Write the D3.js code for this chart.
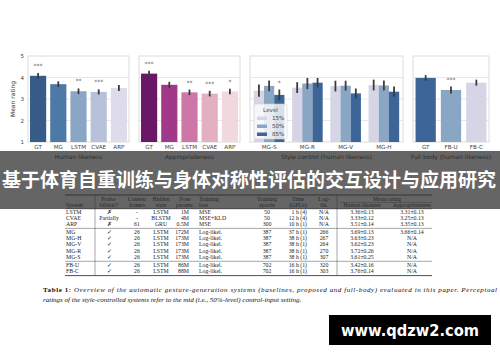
<!DOCTYPE html>
<html lang="zh">
<head>
<meta charset="UTF-8">
<title>Gesture generation ratings</title>
<script src="https://d3js.org/d3.v7.min.js"></script>
<style>
  body { margin: 0; background: #fff; }
  svg { display: block; }
  .tick-lab { font-family: "DejaVu Sans", sans-serif; font-size: 5.6px; fill: #444; }
  .ax-lab { font-family: "DejaVu Sans", sans-serif; font-size: 6px; fill: #333; }
  .star { font-family: "DejaVu Sans", sans-serif; font-size: 6px; fill: #555; }
  .tbl { font-family: "Liberation Serif", serif; font-size: 5.8px; fill: #222; }
</style>
</head>
<body>
<svg id="fig" width="500" height="362"></svg>
<script>
// ---- data ----
var hlSystems = ["GT", "MG", "LSTM", "CVAE", "ARP"];
var hlMeans = [4.08, 3.69, 3.36, 3.33, 3.51];
var hlErr = [0.13, 0.13, 0.13, 0.12, 0.14];
var hlStars = ["***", "", "**", "***", ""];
var hlColors = ["#365c87", "#4c79a6", "#8aa6c5", "#b7c2da", "#dedcea"];

var apMeans = [4.18, 3.66, 3.31, 3.25, 3.35];
var apErr = [0.13, 0.14, 0.13, 0.13, 0.13];
var apStars = ["***", "", "**", "***", "*"];
var apColors = ["#6a1865", "#a2388a", "#cc77a8", "#e2b0c0", "#f0d8dc"];

var styleSystems = ["MG-S", "MG-R", "MG-V", "MG-H"];
var levels = ["15%", "50%", "85%"];
var style15 = [3.39, 3.53, 3.60, 3.65];
var style50 = [3.61, 3.72, 3.62, 3.63];
var style85 = [3.19, 3.76, 3.26, 3.34];
var style15Err = [0.28, 0.25, 0.25, 0.25];
var style50Err = [0.25, 0.26, 0.23, 0.23];
var style85Err = [0.25, 0.22, 0.23, 0.24];
var style85Stars = ["*", "", "", ""];
var levelColors = ["#d6d5e6", "#8aa6c5", "#3d6597"];

var fbSystems = ["GT", "FB-U", "FB-C"];
var fbMeans = [3.98, 3.42, 3.76];
var fbErr = [0.13, 0.16, 0.14];
var fbStars = ["", "***", ""];
var fbColors = ["#3d6597", "#8aa6c5", "#d6d5e6"];

var yTicks = [1, 2, 3, 4, 5];

var tableHead1 = ["", "Proba-", "Context", "Hidden", "Pose", "Training", "Training", "Time", "Log-"];
var tableHead2 = ["System", "bilistic?", "frames", "state", "params.", "loss", "epochs", "(GPUs)", "lik."];
var ratingHead = ["Human-likeness", "Appropriateness"];
var tableRows = [
  ["LSTM", "\u2717", "-", "LSTM", "1M", "MSE", "50", "1 h (4)", "N/A", "3.36\u00b10.13", "3.31\u00b10.13"],
  ["CVAE", "Partially", "-", "BLSTM", "4M", "MSE+KLD", "50", "12 h (4)", "N/A", "3.33\u00b10.12", "3.25\u00b10.13"],
  ["ARP", "\u2717", "61", "GRU", "0.5M", "MSE", "300", "10 h (1)", "N/A", "3.51\u00b10.14", "3.35\u00b10.13"],
  ["MG", "\u2713", "26", "LSTM", "172M", "Log-likel.", "387", "37 h (1)", "266", "3.69\u00b10.13", "3.66\u00b10.14"],
  ["MG-H", "\u2713", "26", "LSTM", "173M", "Log-likel.", "387", "38 h (1)", "267", "3.63\u00b10.23", "N/A"],
  ["MG-V", "\u2713", "26", "LSTM", "173M", "Log-likel.", "387", "38 h (1)", "264", "3.62\u00b10.23", "N/A"],
  ["MG-R", "\u2713", "26", "LSTM", "173M", "Log-likel.", "387", "38 h (1)", "270", "3.72\u00b10.26", "N/A"],
  ["MG-S", "\u2713", "26", "LSTM", "173M", "Log-likel.", "387", "38 h (1)", "307", "3.61\u00b10.25", "N/A"],
  ["FB-U", "\u2713", "26", "LSTM", "86M", "Log-likel.", "702", "16 h (1)", "320", "3.42\u00b10.16", "N/A"],
  ["FB-C", "\u2713", "26", "LSTM", "88M", "Log-likel.", "702", "16 h (1)", "303", "3.76\u00b10.14", "N/A"]
];
var rowGroup = [0, 0, 0, 1, 1, 1, 1, 1, 2, 2];

var svg = d3.select("#fig");
var y = d3.scaleLinear().domain([1, 5]).range([142, 56]);

// panel frame + grid in seaborn whitegrid look
function frame(x0, x1, label) {
  var g = svg.append("g");
  g.selectAll(".grid").data([2, 3, 4]).enter().append("line")
    .attr("x1", x0).attr("x2", x1)
    .attr("y1", function (d) { return y(d); }).attr("y2", function (d) { return y(d); })
    .attr("stroke", "#e8e8e8").attr("stroke-width", 1.2);
  g.append("rect").attr("x", x0).attr("y", y(5)).attr("width", x1 - x0).attr("height", y(1) - y(5))
    .attr("fill", "none").attr("stroke", "#dcdcdc").attr("stroke-width", 1);
  g.append("text").attr("class", "ax-lab").attr("x", (x0 + x1) / 2).attr("y", 158.5)
    .attr("text-anchor", "middle").text(label);
  return g;
}

function errBar(g, cx, m, e) {
  g.append("line").attr("x1", cx).attr("x2", cx)
    .attr("y1", y(m - e)).attr("y2", y(m + e))
    .attr("stroke", "#3b3b3b").attr("stroke-width", 1.8);
}

function star(g, cx, m, e, s) {
  if (!s) return;
  g.append("text").attr("class", "star").attr("x", cx).attr("y", y(m + e) - 5)
    .attr("text-anchor", "middle").text(s);
}

function simplePanel(x0, x1, cats, means, errs, stars, colors, label) {
  var g = frame(x0, x1, label);
  var x = d3.scaleBand().domain(cats).range([x0, x1]).paddingInner(0.2).paddingOuter(0.1);
  cats.forEach(function (c, i) {
    g.append("rect").attr("x", x(c)).attr("y", y(means[i]))
      .attr("width", x.bandwidth()).attr("height", y(1) - y(means[i]))
      .attr("fill", colors[i]);
    var cx = x(c) + x.bandwidth() / 2;
    errBar(g, cx, means[i], errs[i]);
    star(g, cx, means[i], errs[i], stars[i]);
  });
  var ax = d3.axisBottom(x).tickSize(0).tickPadding(3);
  var axg = svg.append("g").attr("transform", "translate(0," + y(1) + ")").call(ax);
  axg.select(".domain").remove();
  axg.selectAll("text").attr("class", "tick-lab").attr("fill", null).style("font-size", "5.6px");
}

simplePanel(28, 129, hlSystems, hlMeans, hlErr, hlStars, hlColors, "Human likeness");
simplePanel(139, 240, hlSystems, apMeans, apErr, apStars, apColors, "Appropriateness");

// style control panel, grouped
(function () {
  var x0 = 250, x1 = 403;
  var g = frame(x0, x1, "Style control (human likeness)");
  var x = d3.scaleBand().domain(styleSystems).range([x0, x1]).paddingInner(0.2).paddingOuter(0.1);
  var xs = d3.scaleBand().domain(levels).range([0, x.bandwidth()]);
  var vals = [style15, style50, style85];
  var errs = [style15Err, style50Err, style85Err];
  styleSystems.forEach(function (s, i) {
    levels.forEach(function (l, j) {
      var bx = x(s) + xs(l);
      g.append("rect").attr("x", bx).attr("y", y(vals[j][i]))
        .attr("width", xs.bandwidth()).attr("height", y(1) - y(vals[j][i]))
        .attr("fill", levelColors[j]);
      errBar(g, bx + xs.bandwidth() / 2, vals[j][i], errs[j][i]);
      if (j === 2) star(g, bx + xs.bandwidth() / 2, vals[j][i], errs[j][i], style85Stars[i]);
    });
  });
  var ax = d3.axisBottom(x).tickSize(0).tickPadding(3);
  var axg = svg.append("g").attr("transform", "translate(0," + y(1) + ")").call(ax);
  axg.select(".domain").remove();
  axg.selectAll("text").attr("class", "tick-lab").attr("fill", null).style("font-size", "5.6px");

  // legend
  var lg = svg.append("g").attr("transform", "translate(254,104)");
  lg.append("rect").attr("width", 33).attr("height", 35).attr("rx", 2)
    .attr("fill", "#fff").attr("fill-opacity", 0.8).attr("stroke", "#d0d0d0").attr("stroke-width", 0.6);
  lg.append("text").attr("class", "tick-lab").attr("x", 16.5).attr("y", 8).attr("text-anchor", "middle").text("Level");
  levels.forEach(function (l, j) {
    lg.append("rect").attr("x", 3).attr("y", 12.5 + j * 8).attr("width", 10).attr("height", 3.5).attr("fill", levelColors[j]);
    lg.append("text").attr("class", "tick-lab").attr("x", 18).attr("y", 16.3 + j * 8).text(l);
  });
})();

simplePanel(413, 489, fbSystems, fbMeans, fbErr, fbStars, fbColors, "Full body (human likeness)");

// y axis on the first panel
var yax = svg.append("g").attr("transform", "translate(28,0)")
  .call(d3.axisLeft(y).tickValues(yTicks).tickSize(0).tickPadding(4).tickFormat(d3.format("d")));
yax.select(".domain").remove();
yax.selectAll("text").attr("class", "tick-lab").attr("fill", null).style("font-size", "5.6px");
svg.append("text").attr("class", "ax-lab")
  .attr("transform", "translate(15," + y(3) + ") rotate(-90)")
  .attr("text-anchor", "middle").text("Mean rating");

// ---- table ----
var colX = [66, 109, 137, 161, 189, 199, 267, 307, 324, 362, 412];
var colAnchor = ["start", "middle", "middle", "middle", "end", "start", "middle", "end", "middle", "middle", "middle"];
var headX = [66, 109, 137, 161, 185, 199, 267, 298, 324];
var headAnchor = ["start", "middle", "middle", "middle", "middle", "start", "middle", "middle", "middle"];
var tL = 65, tR = 432;
var tb = svg.append("g");
tb.append("line").attr("x1", tL).attr("x2", tR).attr("y1", 195).attr("y2", 195).attr("stroke", "#222").attr("stroke-width", 0.8);
tableHead1.forEach(function (h, i) {
  tb.append("text").attr("class", "tbl").attr("x", headX[i]).attr("y", 201).attr("text-anchor", headAnchor[i]).text(h);
});
tableHead2.forEach(function (h, i) {
  tb.append("text").attr("class", "tbl").attr("x", headX[i]).attr("y", 207).attr("text-anchor", headAnchor[i]).text(h);
});
tb.append("text").attr("class", "tbl").attr("x", 387).attr("y", 201).attr("text-anchor", "middle").text("Mean rating");
tb.append("line").attr("x1", 340).attr("x2", tR).attr("y1", 202.5).attr("y2", 202.5).attr("stroke", "#222").attr("stroke-width", 0.3);
ratingHead.forEach(function (h, i) {
  tb.append("text").attr("class", "tbl").attr("x", colX[9 + i]).attr("y", 207).attr("text-anchor", "middle").text(h);
});
tb.append("line").attr("x1", tL).attr("x2", tR).attr("y1", 208.8).attr("y2", 208.8).attr("stroke", "#222").attr("stroke-width", 0.5);

function rowY(i) { return 213.5 + i * 6.3 + rowGroup[i] * 1.4; }
tableRows.forEach(function (r, i) {
  r.forEach(function (c, j) {
    tb.append("text").attr("class", "tbl").attr("x", colX[j]).attr("y", rowY(i)).attr("text-anchor", colAnchor[j]).text(c);
  });
});
[2, 7].forEach(function (i) {
  var ly = rowY(i) + 2.3;
  tb.append("line").attr("x1", tL).attr("x2", tR).attr("y1", ly).attr("y2", ly).attr("stroke", "#222").attr("stroke-width", 0.4);
});
var bottomY = rowY(9) + 2.6;
tb.append("line").attr("x1", tL).attr("x2", tR).attr("y1", bottomY).attr("y2", bottomY).attr("stroke", "#222").attr("stroke-width", 0.8);
[95, 337].forEach(function (vx) {
  tb.append("line").attr("x1", vx).attr("x2", vx).attr("y1", 195).attr("y2", bottomY).attr("stroke", "#222").attr("stroke-width", 0.4);
});

// caption
var cap1 = svg.append("text").attr("x", 43).attr("y", 292).attr("textLength", 454).attr("lengthAdjust", "spacing")
  .style("font-family", "'Liberation Serif', serif").style("font-size", "7px").attr("fill", "#111");
cap1.append("tspan").style("font-weight", "bold").text("Table 1: ");
cap1.append("tspan").style("font-style", "italic")
  .text("Overview of the automatic gesture-generation systems (baselines, proposed and full-body) evaluated in this paper. Perceptual");
svg.append("text").attr("x", 43).attr("y", 301.5)
  .style("font-family", "'Liberation Serif', serif").style("font-size", "7px").style("font-style", "italic").attr("fill", "#111")
  .text("ratings of the style-controlled systems refer to the mid (i.e., 50%-level) control-input setting.");

// banner overlay with title
svg.append("rect").attr("x", 0).attr("y", 151).attr("width", 500).attr("height", 58)
  .attr("fill", "#2a2a2a").attr("fill-opacity", 0.72);
svg.append("text").attr("x", 2).attr("y", 187).attr("textLength", 494).attr("lengthAdjust", "spacingAndGlyphs")
  .style("font-family", "'Noto Sans CJK SC', sans-serif").style("font-size", "19px").style("font-weight", "bold")
  .attr("fill", "#fff").text("基于体育自重训练与身体对称性评估的交互设计与应用研究");

// watermark
svg.append("rect").attr("x", 329).attr("y", 315).attr("width", 162).attr("height", 30).attr("fill", "#000");
svg.append("text").attr("x", 410).attr("y", 336).attr("text-anchor", "middle").attr("textLength", 138)
  .attr("lengthAdjust", "spacingAndGlyphs")
  .style("font-family", "'DejaVu Sans', sans-serif").style("font-size", "16px").style("font-weight", "bold")
  .attr("fill", "#fff").text("www.qdzw2.com");
</script>
</body>
</html>
